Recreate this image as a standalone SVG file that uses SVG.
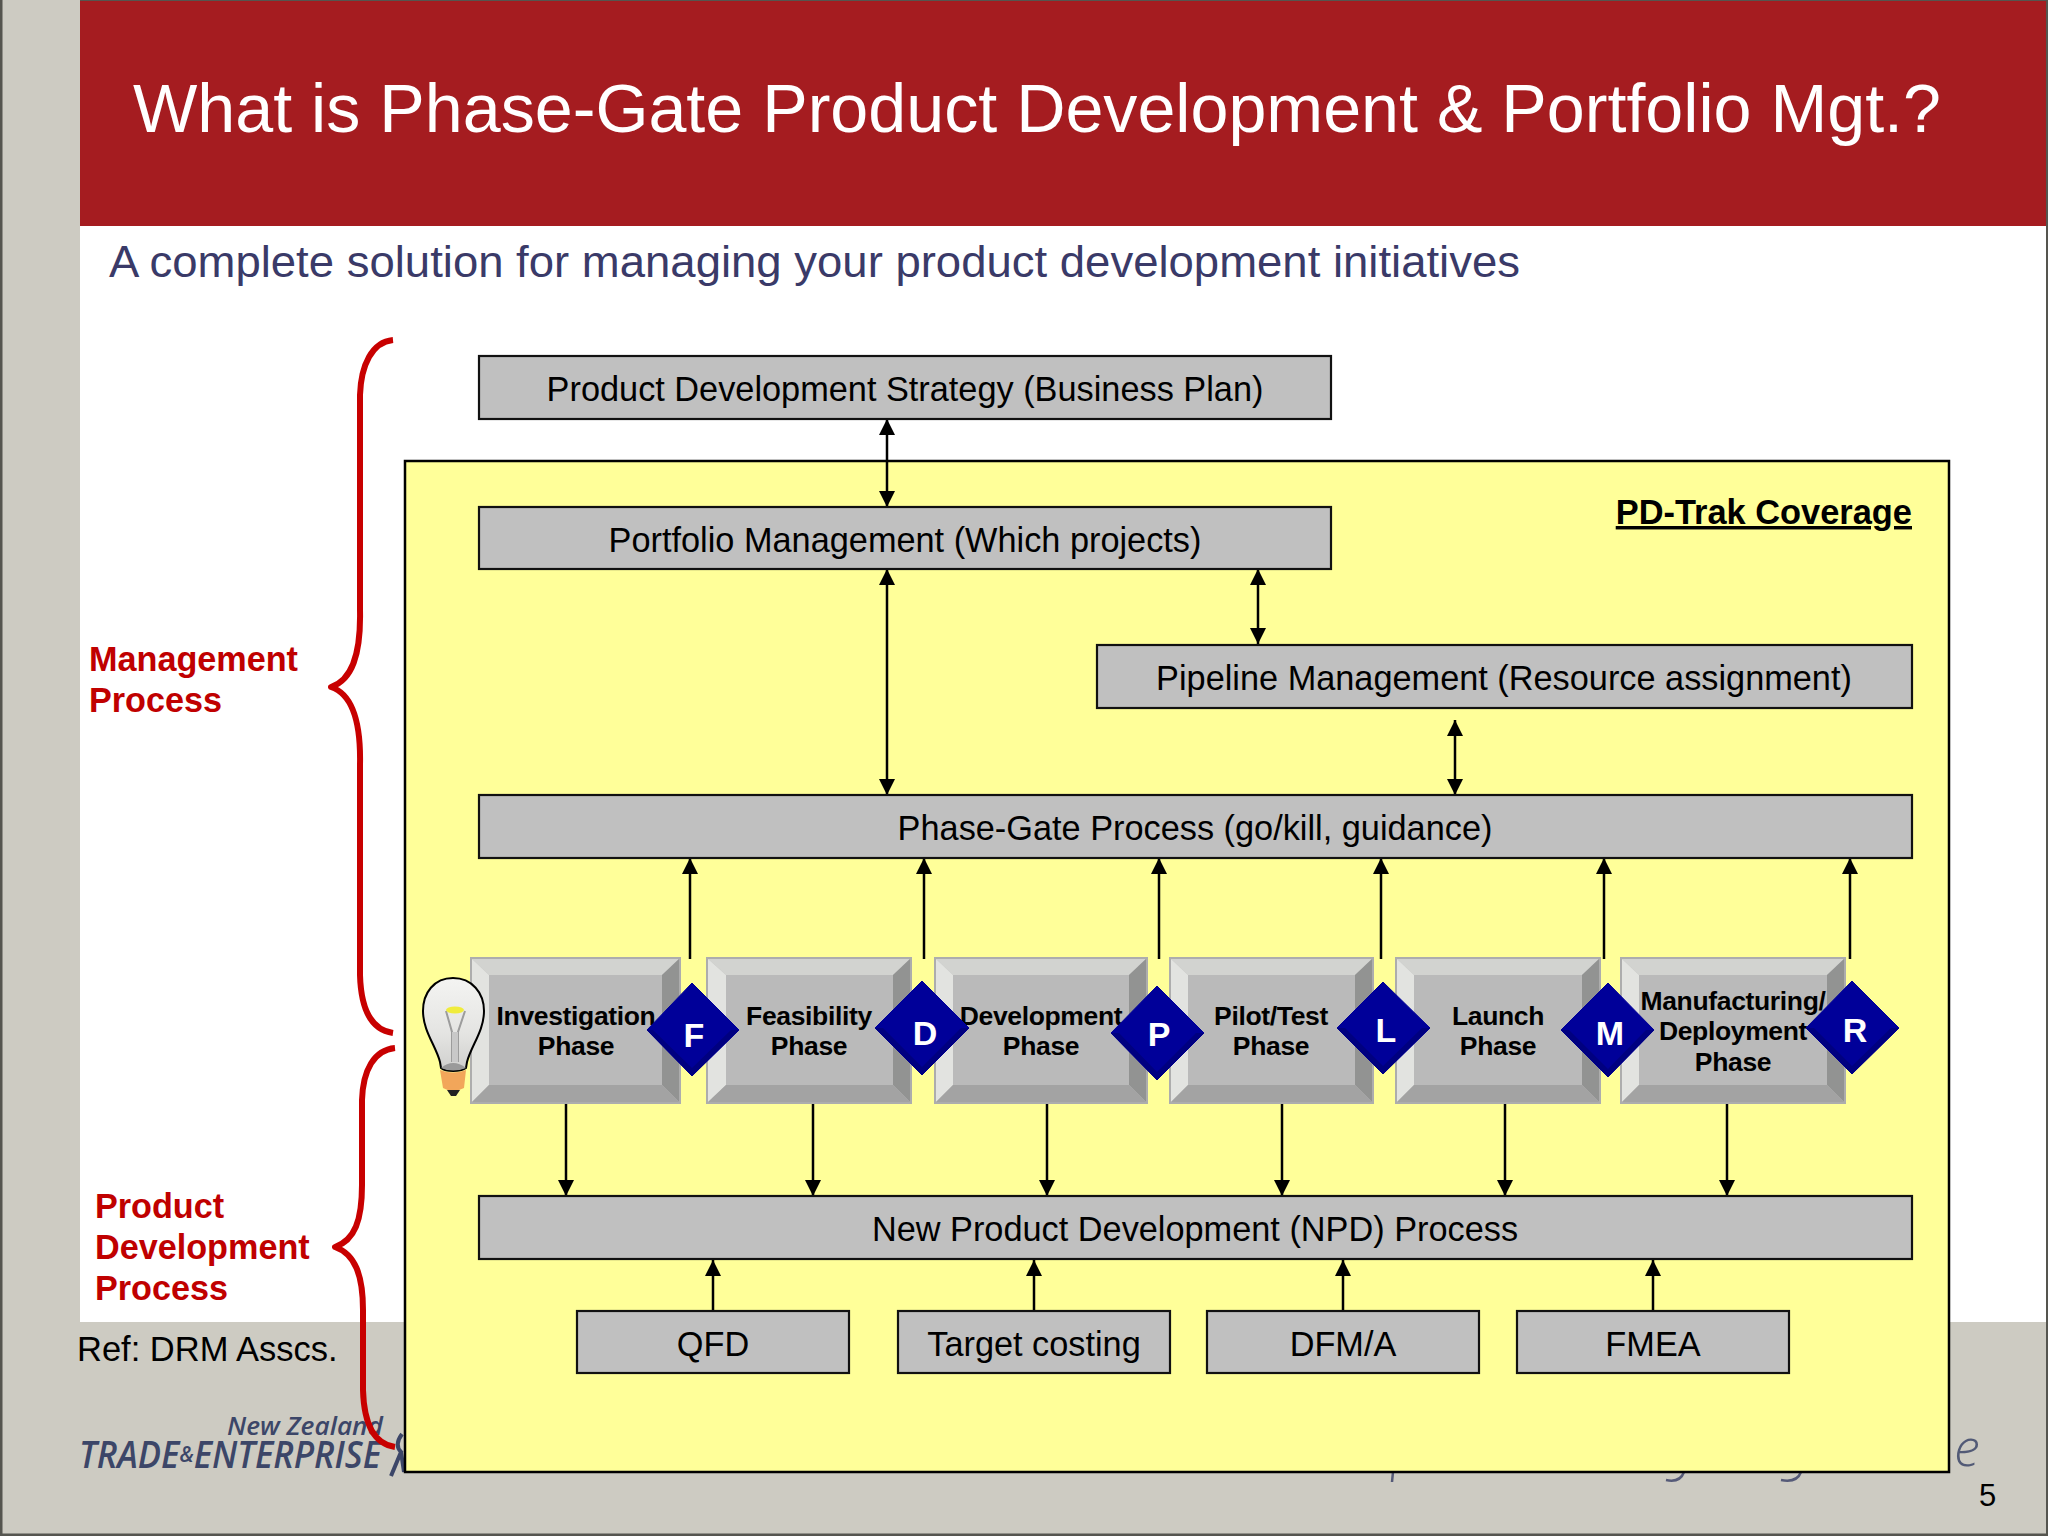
<svg xmlns="http://www.w3.org/2000/svg" width="2048" height="1536" viewBox="0 0 2048 1536">
<style>
text{font-family:"Liberation Sans",Arial,sans-serif}
.box{fill:#c0c0c0;stroke:#111;stroke-width:2.2}
.bt{font-size:34.3px;fill:#000;text-anchor:middle}
.ph{font-size:26.5px;font-weight:700;fill:#000;text-anchor:middle;letter-spacing:-.35px}
.red{font-size:34.2px;font-weight:700;fill:#c00000}
.dm{fill:#000099;stroke:#000099;stroke-width:1}
.ds{fill:#000080}
.dt{font-size:34px;font-weight:700;fill:#fff;text-anchor:middle}
.ln{stroke:#000;stroke-width:2.5;fill:none}
.brace{stroke:#c80000;stroke-width:6;fill:none;stroke-linejoin:round}
.logo{fill:#3c4668;font-style:italic;font-family:"Open Sans","Liberation Sans",sans-serif}
.b0{fill:#bababa}.b1{fill:#d2d3d0}.b2{fill:#e2e3e0}.b3{fill:#929392}.b4{fill:#a3a3a3}
.edge{fill:none;stroke:#adadad;stroke-width:2}
</style>
<defs>
<marker id="ah" markerUnits="userSpaceOnUse" markerWidth="16" markerHeight="20" refX="16" refY="8" orient="auto-start-reverse"><path d="M0 0L16 8L0 16z" fill="#000"/></marker>
<linearGradient id="glass" x1="0" y1="0" x2="0" y2="1"><stop offset="0" stop-color="#f4f4f2"/><stop offset=".6" stop-color="#e4e4e2"/><stop offset="1" stop-color="#cfcfcd"/></linearGradient>
</defs>
<rect width="2048" height="1536" fill="#cdcbc2"/>
<rect x="80" y="226" width="1968" height="1096" fill="#fff"/>
<rect x="80" y="0" width="1968" height="226" fill="#a51c20"/>
<path d="M1 0V1535H2048" fill="none" stroke="#55554f" stroke-width="3"/>
<path d="M80 0H2048" fill="none" stroke="#55554f" stroke-width="2"/>
<path d="M2047 0V1535" fill="none" stroke="#55554f" stroke-width="2"/>
<g id="header">
<text x="133" y="132" font-size="68" fill="#fff" textLength="1808" lengthAdjust="spacingAndGlyphs">What is Phase-Gate Product Development &amp; Portfolio Mgt.?</text>
<text x="109" y="277" font-size="45" fill="#3a3a68" textLength="1411" lengthAdjust="spacingAndGlyphs">A complete solution for managing your product development initiatives</text>
</g>
<g id="footer">
<text x="77" y="1361" font-size="34.5" fill="#000">Ref: DRM Asscs.</text>
<text x="227" y="1435" font-size="26" font-weight="600" class="logo" textLength="156" lengthAdjust="spacingAndGlyphs">New Zealand</text>
<text x="79" y="1468" font-size="37" font-weight="600" class="logo" textLength="302" lengthAdjust="spacingAndGlyphs">TRADE<tspan font-size="22" dy="-6">&amp;</tspan><tspan dy="6">ENTERPRISE</tspan></text>
<path d="M402 1434Q394 1445 401 1452L391 1476M401 1452L404 1472" fill="none" stroke="#3c4668" stroke-width="4"/>
<text x="1954" y="1466" font-size="52" class="logo" font-weight="300" fill-opacity=".85">e</text>
<path d="M1393 1472L1392 1482M1684 1472Q1680 1483 1666 1480M1801 1472Q1797 1483 1781 1480" fill="none" stroke="#555a78" stroke-width="2.5"/>
<text x="1979" y="1506" font-size="31" fill="#000">5</text>
</g>
<g id="braces">
<path class="brace" d="M393 340C372 342 361 365 360 395V610C361 655 352 680 331 687C352 694 361 720 360 765V975C361 1010 372 1030 393 1033"/>
<path class="brace" d="M395 1048C374 1050 363 1070 362 1100V1185C362 1220 355 1240 335 1247C355 1254 363 1275 363 1310V1390C364 1425 374 1444 395 1447"/>
</g>
<g id="side-labels">
<text class="red" x="89" y="671">Management</text>
<text class="red" x="89" y="712">Process</text>
<text class="red" x="95" y="1218">Product</text>
<text class="red" x="95" y="1259">Development</text>
<text class="red" x="95" y="1300">Process</text>
</g>
<g id="coverage">
<rect x="405" y="461" width="1544" height="1011" fill="#ffff99" stroke="#000" stroke-width="2.5"/>
<text x="1912" y="524" font-size="34.4" font-weight="700" text-anchor="end" text-decoration="underline" fill="#000">PD-Trak Coverage</text>
</g>
<g id="connectors">
<path class="ln" d="M887 419V507" marker-start="url(#ah)" marker-end="url(#ah)"/>
<path class="ln" d="M887 569V795" marker-start="url(#ah)" marker-end="url(#ah)"/>
<path class="ln" d="M1258 569V644" marker-start="url(#ah)" marker-end="url(#ah)"/>
<path class="ln" d="M1455 720V795" marker-start="url(#ah)" marker-end="url(#ah)"/>
<path class="ln" d="M690 959V858" marker-end="url(#ah)"/>
<path class="ln" d="M924 959V858" marker-end="url(#ah)"/>
<path class="ln" d="M1159 959V858" marker-end="url(#ah)"/>
<path class="ln" d="M1381 959V858" marker-end="url(#ah)"/>
<path class="ln" d="M1604 959V858" marker-end="url(#ah)"/>
<path class="ln" d="M1850 959V858" marker-end="url(#ah)"/>
<path class="ln" d="M566 1103V1196" marker-end="url(#ah)"/>
<path class="ln" d="M813 1103V1196" marker-end="url(#ah)"/>
<path class="ln" d="M1047 1103V1196" marker-end="url(#ah)"/>
<path class="ln" d="M1282 1103V1196" marker-end="url(#ah)"/>
<path class="ln" d="M1505 1103V1196" marker-end="url(#ah)"/>
<path class="ln" d="M1727 1103V1196" marker-end="url(#ah)"/>
<path class="ln" d="M713 1311V1260" marker-end="url(#ah)"/>
<path class="ln" d="M1034 1311V1260" marker-end="url(#ah)"/>
<path class="ln" d="M1343 1311V1260" marker-end="url(#ah)"/>
<path class="ln" d="M1653 1311V1260" marker-end="url(#ah)"/>
</g>
<g id="strategy"><rect class="box" x="479" y="356" width="852" height="63"/><text class="bt" x="905" y="401">Product Development Strategy (Business Plan)</text></g>
<g id="portfolio"><rect class="box" x="479" y="507" width="852" height="62"/><text class="bt" x="905" y="552">Portfolio Management (Which projects)</text></g>
<g id="pipeline"><rect class="box" x="1097" y="645" width="815" height="63"/><text class="bt" x="1504" y="690">Pipeline Management (Resource assignment)</text></g>
<g id="phasegate"><rect class="box" x="479" y="795" width="1433" height="63"/><text class="bt" x="1195" y="840">Phase-Gate Process (go/kill, guidance)</text></g>
<g id="npd"><rect class="box" x="479" y="1196" width="1433" height="63"/><text class="bt" x="1195" y="1241">New Product Development (NPD) Process</text></g>
<g id="qfd"><rect class="box" x="577" y="1311" width="272" height="62"/><text class="bt" x="713" y="1356">QFD</text></g>
<g id="target"><rect class="box" x="898" y="1311" width="272" height="62"/><text class="bt" x="1034" y="1356">Target costing</text></g>
<g id="dfma"><rect class="box" x="1207" y="1311" width="272" height="62"/><text class="bt" x="1343" y="1356">DFM/A</text></g>
<g id="fmea"><rect class="box" x="1517" y="1311" width="272" height="62"/><text class="bt" x="1653" y="1356">FMEA</text></g>
<g id="phase-investigation">
<rect class="b0" x="471" y="958" width="209" height="145"/>
<path class="b1" d="M471 958H680L662 975H489z"/><path class="b2" d="M471 958L489 975V1085L471 1103z"/><path class="b3" d="M680 958V1103L662 1085V975z"/><path class="b4" d="M471 1103L489 1085H662L680 1103z"/>
<rect class="edge" x="471" y="958" width="209" height="145"/>
<text class="ph" x="576" y="1025">Investigation</text><text class="ph" x="576" y="1055">Phase</text></g>
<g id="phase-feasibility">
<rect class="b0" x="707" y="958" width="204" height="145"/>
<path class="b1" d="M707 958H911L893 975H726z"/><path class="b2" d="M707 958L726 975V1085L707 1103z"/><path class="b3" d="M911 958V1103L893 1085V975z"/><path class="b4" d="M707 1103L726 1085H893L911 1103z"/>
<rect class="edge" x="707" y="958" width="204" height="145"/>
<text class="ph" x="809" y="1025">Feasibility</text><text class="ph" x="809" y="1055">Phase</text></g>
<g id="phase-development">
<rect class="b0" x="935" y="958" width="212" height="145"/>
<path class="b1" d="M935 958H1147L1129 975H953z"/><path class="b2" d="M935 958L953 975V1085L935 1103z"/><path class="b3" d="M1147 958V1103L1129 1085V975z"/><path class="b4" d="M935 1103L953 1085H1129L1147 1103z"/>
<rect class="edge" x="935" y="958" width="212" height="145"/>
<text class="ph" x="1041" y="1025">Development</text><text class="ph" x="1041" y="1055">Phase</text></g>
<g id="phase-pilot">
<rect class="b0" x="1170" y="958" width="203" height="145"/>
<path class="b1" d="M1170 958H1373L1355 975H1188z"/><path class="b2" d="M1170 958L1188 975V1085L1170 1103z"/><path class="b3" d="M1373 958V1103L1355 1085V975z"/><path class="b4" d="M1170 1103L1188 1085H1355L1373 1103z"/>
<rect class="edge" x="1170" y="958" width="203" height="145"/>
<text class="ph" x="1271" y="1025">Pilot/Test</text><text class="ph" x="1271" y="1055">Phase</text></g>
<g id="phase-launch">
<rect class="b0" x="1396" y="958" width="204" height="145"/>
<path class="b1" d="M1396 958H1600L1582 975H1414z"/><path class="b2" d="M1396 958L1414 975V1085L1396 1103z"/><path class="b3" d="M1600 958V1103L1582 1085V975z"/><path class="b4" d="M1396 1103L1414 1085H1582L1600 1103z"/>
<rect class="edge" x="1396" y="958" width="204" height="145"/>
<text class="ph" x="1498" y="1025">Launch</text><text class="ph" x="1498" y="1055">Phase</text></g>
<g id="phase-manufacturing">
<rect class="b0" x="1621" y="958" width="224" height="145"/>
<path class="b1" d="M1621 958H1845L1827 975H1639z"/><path class="b2" d="M1621 958L1639 975V1085L1621 1103z"/><path class="b3" d="M1845 958V1103L1827 1085V975z"/><path class="b4" d="M1621 1103L1639 1085H1827L1845 1103z"/>
<rect class="edge" x="1621" y="958" width="224" height="145"/>
<text class="ph" x="1733" y="1010">Manufacturing/</text><text class="ph" x="1733" y="1040">Deployment</text><text class="ph" x="1733" y="1071">Phase</text></g>
<g id="gate-f"><path class="dm" d="M692 983L739 1030L692 1076L647 1030z"/><path class="ds" d="M692 1076L739 1030L731 1030L692 1068L653 1030L647 1030z"/><text class="dt" x="694" y="1047">F</text></g>
<g id="gate-d"><path class="dm" d="M922 981L969 1028L922 1075L875 1028z"/><path class="ds" d="M922 1075L969 1028L961 1028L922 1067L883 1028L875 1028z"/><text class="dt" x="925" y="1045">D</text></g>
<g id="gate-p"><path class="dm" d="M1157 986L1204 1033L1157 1080L1111 1033z"/><path class="ds" d="M1157 1080L1204 1033L1196 1033L1157 1072L1119 1033L1111 1033z"/><text class="dt" x="1159" y="1046">P</text></g>
<g id="gate-l"><path class="dm" d="M1383 982L1430 1028L1383 1074L1337 1028z"/><path class="ds" d="M1383 1074L1430 1028L1422 1028L1383 1066L1345 1028L1337 1028z"/><text class="dt" x="1386" y="1042">L</text></g>
<g id="gate-m"><path class="dm" d="M1608 983L1654 1030L1608 1077L1561 1030z"/><path class="ds" d="M1608 1077L1654 1030L1646 1030L1608 1069L1569 1030L1561 1030z"/><text class="dt" x="1610" y="1045">M</text></g>
<g id="gate-r"><path class="dm" d="M1852 981L1899 1028L1852 1074L1806 1028z"/><path class="ds" d="M1852 1074L1899 1028L1891 1028L1852 1066L1814 1028L1806 1028z"/><text class="dt" x="1855" y="1042">R</text></g>
<g id="bulb">
<path d="M453 978C434 978 423 993 423 1011C423 1031 436 1046 440 1062L441 1068C446 1072 460 1072 466 1068L467 1062C471 1046 484 1031 484 1011C484 993 472 978 453 978z" fill="url(#glass)" stroke="#000" stroke-width="2"/>
<path d="M446 1011L452 1032V1062M465 1011L458 1032V1062" fill="none" stroke="#9c9c9c" stroke-width="2"/>
<path d="M452 1032H458V1062H452z" fill="#c8c8c8"/>
<ellipse cx="455" cy="1010" rx="9" ry="3.5" fill="#f0ec3c"/>
<path d="M441 1068Q453 1058 466 1068Q453 1073 441 1068z" fill="#9a9a9a"/>
<path d="M440 1070Q453 1075 466 1070L464 1088Q453 1094 443 1088z" fill="#f2a65a"/>
<path d="M447 1090H460L456 1096H451z" fill="#222"/>
</g>
</svg>
